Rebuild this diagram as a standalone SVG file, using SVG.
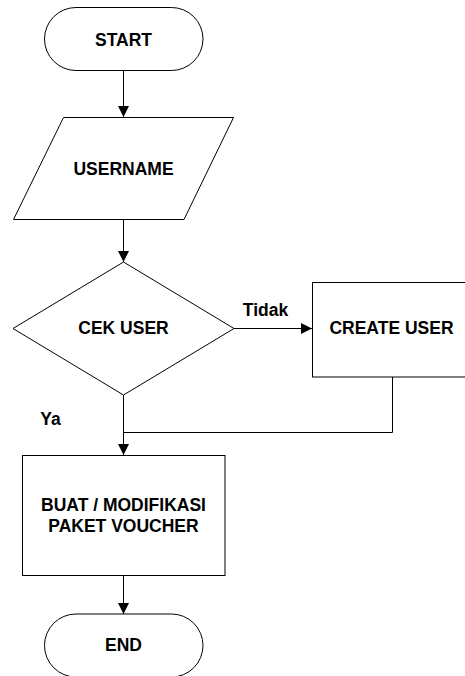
<svg xmlns="http://www.w3.org/2000/svg" width="465" height="676" viewBox="0 0 465 676">
<defs>
<marker id="arr" markerUnits="userSpaceOnUse" markerWidth="11" markerHeight="11" refX="11" refY="5.5" orient="auto">
<path d="M0,0 L11,5.5 L0,11 Z" fill="#000"/>
</marker>
<style>
.shape{fill:#fff;stroke:#000;stroke-width:1}
.conn{fill:none;stroke:#000;stroke-width:1}
text{font-family:"Liberation Sans",Arial,sans-serif;font-weight:bold;font-size:17.5px;fill:#000;text-anchor:middle}
</style>
</defs>
<rect width="465" height="676" fill="#fff"/>
<g id="connectors">
<line class="conn" x1="123.5" y1="70.5" x2="123.5" y2="117" marker-end="url(#arr)"/>
<line class="conn" x1="123.5" y1="219.5" x2="123.5" y2="262" marker-end="url(#arr)"/>
<line class="conn" x1="234" y1="328.5" x2="312" y2="328.5" marker-end="url(#arr)"/>
<polyline class="conn" points="392.5,377 392.5,432.5 123.5,432.5"/>
<line class="conn" x1="123.5" y1="395" x2="123.5" y2="455" marker-end="url(#arr)"/>
<line class="conn" x1="123.5" y1="576" x2="123.5" y2="614" marker-end="url(#arr)"/>
<text x="265.5" y="316">Tidak</text>
<text x="50.5" y="425">Ya</text>
</g>
<g id="start">
<rect class="shape" x="44.5" y="7.5" width="158.5" height="63" rx="31.5" ry="31.5"/>
<text x="123.5" y="46">START</text>
</g>
<g id="username">
<polygon class="shape" points="63.5,117.5 233.5,117.5 184,219.5 13.5,219.5"/>
<text x="123.5" y="175">USERNAME</text>
</g>
<g id="cek-user">
<polygon class="shape" points="123.5,262 234,328.5 123.5,395 13,328.5"/>
<text x="123.5" y="334">CEK USER</text>
</g>
<g id="create-user">
<rect class="shape" x="312.5" y="282.5" width="170" height="94.5"/>
<text x="391.5" y="334">CREATE USER</text>
</g>
<g id="buat-paket">
<rect class="shape" x="22.5" y="455.5" width="202.5" height="120"/>
<text x="123.5" y="511">BUAT / MODIFIKASI</text>
<text x="123.5" y="531.5">PAKET VOUCHER</text>
</g>
<g id="end">
<rect class="shape" x="44.5" y="614" width="158.5" height="63" rx="31.5" ry="31.5"/>
<text x="123.5" y="651">END</text>
</g>
</svg>
